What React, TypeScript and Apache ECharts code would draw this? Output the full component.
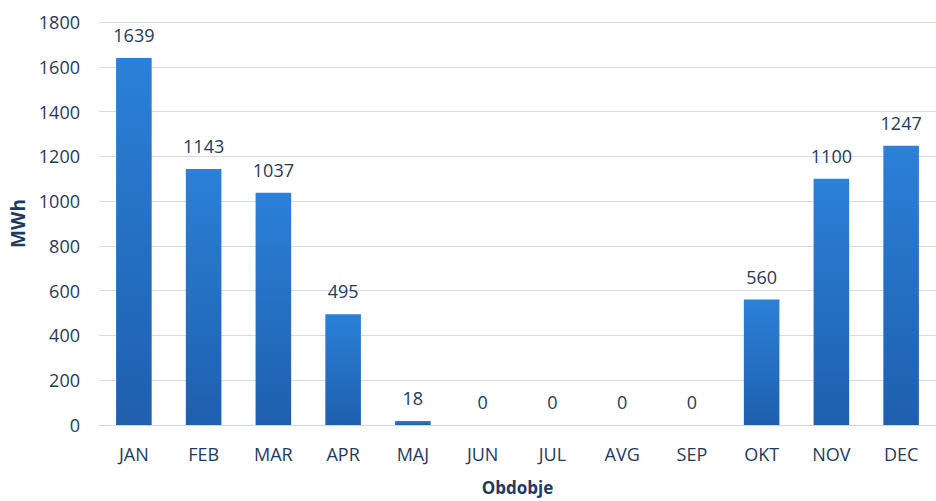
import React, { useEffect, useRef } from "react";
import * as echarts from "echarts";

const categories = ["JAN", "FEB", "MAR", "APR", "MAJ", "JUN", "JUL", "AVG", "SEP", "OKT", "NOV", "DEC"];
const values = [1639, 1143, 1037, 495, 18, 0, 0, 0, 0, 560, 1100, 1247];
const yAxisTitle = "MWh";
const xAxisTitle = "Obdobje";

export default function App() {
  const ref = useRef<HTMLDivElement>(null);
  useEffect(() => {
    if (!ref.current) return;
    const chart = echarts.init(ref.current, undefined, { renderer: "svg" });
    const font = "'Open Sans', Lato, sans-serif";
    const textColor = "#1f3a60";
    chart.setOption({
      animation: false,
      backgroundColor: "#ffffff",
      grid: { left: 99, right: -11, top: 22, bottom: 74, containLabel: false },
      xAxis: {
        type: "category",
        data: categories,
        name: xAxisTitle,
        nameLocation: "middle",
        nameGap: 54,
        nameTextStyle: { fontFamily: font, fontSize: 17, fontWeight: "bold", color: textColor },
        axisLine: { show: true, lineStyle: { color: "#cfd6e6", width: 1 } },
        axisTick: { show: false },
        axisLabel: { fontFamily: font, fontSize: 18, color: textColor, margin: 20 },
      },
      yAxis: {
        type: "value",
        min: 0,
        max: 1800,
        interval: 200,
        name: yAxisTitle,
        nameLocation: "middle",
        nameGap: 71,
        nameTextStyle: { fontFamily: font, fontSize: 19, fontWeight: "bold", color: textColor },
        axisLine: { show: false },
        axisTick: { show: false },
        splitLine: { lineStyle: { color: "#d6dcea", width: 1 } },
        axisLabel: {
          fontFamily: font,
          fontSize: 18,
          color: textColor,
          margin: 19,
          formatter: (v: number) => String(v),
        },
      },
      series: [
        {
          type: "bar",
          data: values,
          barWidth: "51%",
          itemStyle: {
            color: new echarts.graphic.LinearGradient(0, 0, 0, 1, [
              { offset: 0, color: "#2b80d8" },
              { offset: 1, color: "#1f5fae" },
            ]),
          },
          label: {
            show: true,
            position: "top",
            distance: 14,
            fontFamily: font,
            fontSize: 18,
            color: textColor,
          },
        },
      ],
    });
    return () => chart.dispose();
  }, []);
  return <div ref={ref} style={{ position: "fixed", left: 0, top: 0, width: 936, height: 501 }} />;
}
